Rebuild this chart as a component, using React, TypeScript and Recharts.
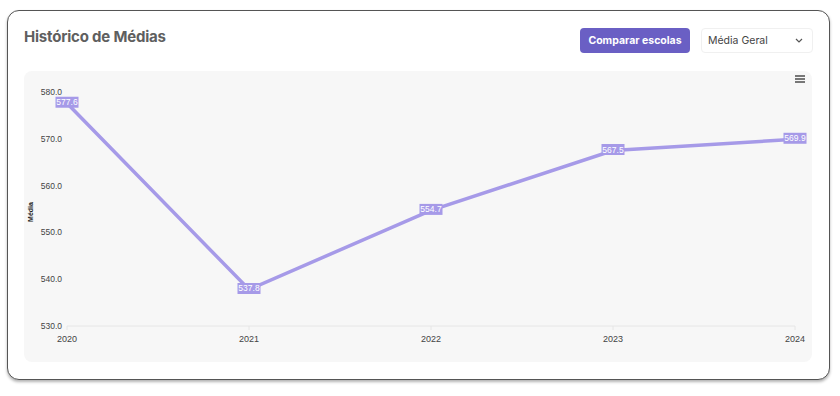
import React from 'react';
import { LineChart, Line, XAxis, YAxis, LabelList } from 'recharts';

const years = ['2020', '2021', '2022', '2023', '2024'];
const medias = [577.6, 537.8, 554.7, 567.5, 569.9];
const yTicks = [530, 540, 550, 560, 570, 580];

const data = years.map((ano, i) => ({ ano, media: medias[i] }));

const LINE_COLOR = '#a69ae8';

const ValueTag = (props: any) => {
  const { x, y, value } = props;
  const txt = Number(value).toFixed(1);
  const w = 23;
  const h = 11;
  return (
    <g>
      <rect x={x - w / 2} y={y - h / 2 - 1} width={w} height={h} fill={LINE_COLOR} />
      <text
        x={x}
        y={y - 1}
        textAnchor="middle"
        dominantBaseline="central"
        fill="#fff"
        fontSize={8.5}
        fontFamily="'Liberation Sans', Arial, sans-serif"
      >
        {txt}
      </text>
    </g>
  );
};

const AxisTitle = (props: any) => {
  const vb = props.viewBox || {};
  const cx = 6;
  const cy = vb.y + vb.height / 2 + 3;
  return (
    <text
      x={cx}
      y={cy}
      transform={`rotate(-90 ${cx} ${cy})`}
      textAnchor="middle"
      dominantBaseline="central"
      fontSize={7}
      fontWeight={700}
      fill="#222"
      fontFamily="'Liberation Sans', Arial, sans-serif"
    >
      Média
    </text>
  );
};

export default function App() {
  return (
    <div style={{ position: 'absolute', left: 0, top: 0, width: 840, height: 396, background: '#fff', fontFamily: 'Inter, sans-serif' }}>
      <div
        style={{
          position: 'absolute',
          left: 7,
          top: 10,
          width: 821,
          height: 368,
          border: '1px solid #555',
          borderRadius: 12,
          boxShadow: '0 2px 3px rgba(0,0,0,0.3)',
          background: '#fff',
        }}
      />
      <div style={{ position: 'absolute', left: 24, top: 27, fontSize: 15, fontWeight: 700, color: '#5f5f5f', letterSpacing: -0.2 }}>
        Histórico de Médias
      </div>
      <div
        style={{
          position: 'absolute',
          left: 580,
          top: 28,
          width: 110,
          height: 25,
          borderRadius: 4,
          background: '#6a5fc4',
          color: '#fff',
          fontSize: 10.5,
          fontWeight: 700,
          display: 'flex',
          alignItems: 'center',
          justifyContent: 'center',
        }}
      >
        Comparar escolas
      </div>
      <div
        style={{
          position: 'absolute',
          left: 701,
          top: 28,
          width: 104,
          height: 23,
          borderRadius: 4,
          border: '1px solid #f0f0f0',
          background: '#fff',
          color: '#444',
          fontSize: 10.5,
          display: 'flex',
          alignItems: 'center',
          paddingLeft: 6,
          boxSizing: 'content-box',
        }}
      >
        Média Geral
        <svg style={{ position: 'absolute', left: 93, top: 9 }} width="8" height="6" viewBox="0 0 8 6">
          <path d="M1 1 L4 4 L7 1" stroke="#555" strokeWidth="1.2" fill="none" />
        </svg>
      </div>
      <div style={{ position: 'absolute', left: 24, top: 71, width: 788, height: 291, background: '#f7f7f7', borderRadius: 8 }}>
        <div style={{ position: 'absolute', left: 771, top: 4, width: 10 }}>
          {[0, 1, 2].map((k) => (
            <div key={k} style={{ height: 1.5, background: '#777', marginBottom: 1.5 }} />
          ))}
        </div>
        <LineChart width={788} height={291} data={data} margin={{ top: 21, right: 17, bottom: 6, left: 0 }}>
          <XAxis
            dataKey="ano"
            height={30}
            padding={{ left: 0, right: 0 }}
            axisLine={{ stroke: '#e6e6e6' }}
            tickLine={{ stroke: '#e6e6e6' }}
            tickSize={4}
            tickMargin={6}
            tick={{ fontSize: 9, fill: '#444', fontFamily: "'Liberation Sans', Arial, sans-serif" }}
          />
          <YAxis
            width={43}
            domain={[530, 580]}
            ticks={yTicks}
            tickFormatter={(v: number) => v.toFixed(1)}
            axisLine={false}
            tickLine={false}
            tickSize={0}
            tickMargin={5}
            tick={{ fontSize: 8.5, fill: '#444', fontFamily: "'Liberation Sans', Arial, sans-serif" }}
            label={{ content: AxisTitle }}
          />
          <Line
            type="linear"
            dataKey="media"
            stroke={LINE_COLOR}
            strokeWidth={3.5}
            dot={false}
            activeDot={false}
            isAnimationActive={false}
          >
            <LabelList dataKey="media" content={ValueTag} />
          </Line>
        </LineChart>
      </div>
    </div>
  );
}
